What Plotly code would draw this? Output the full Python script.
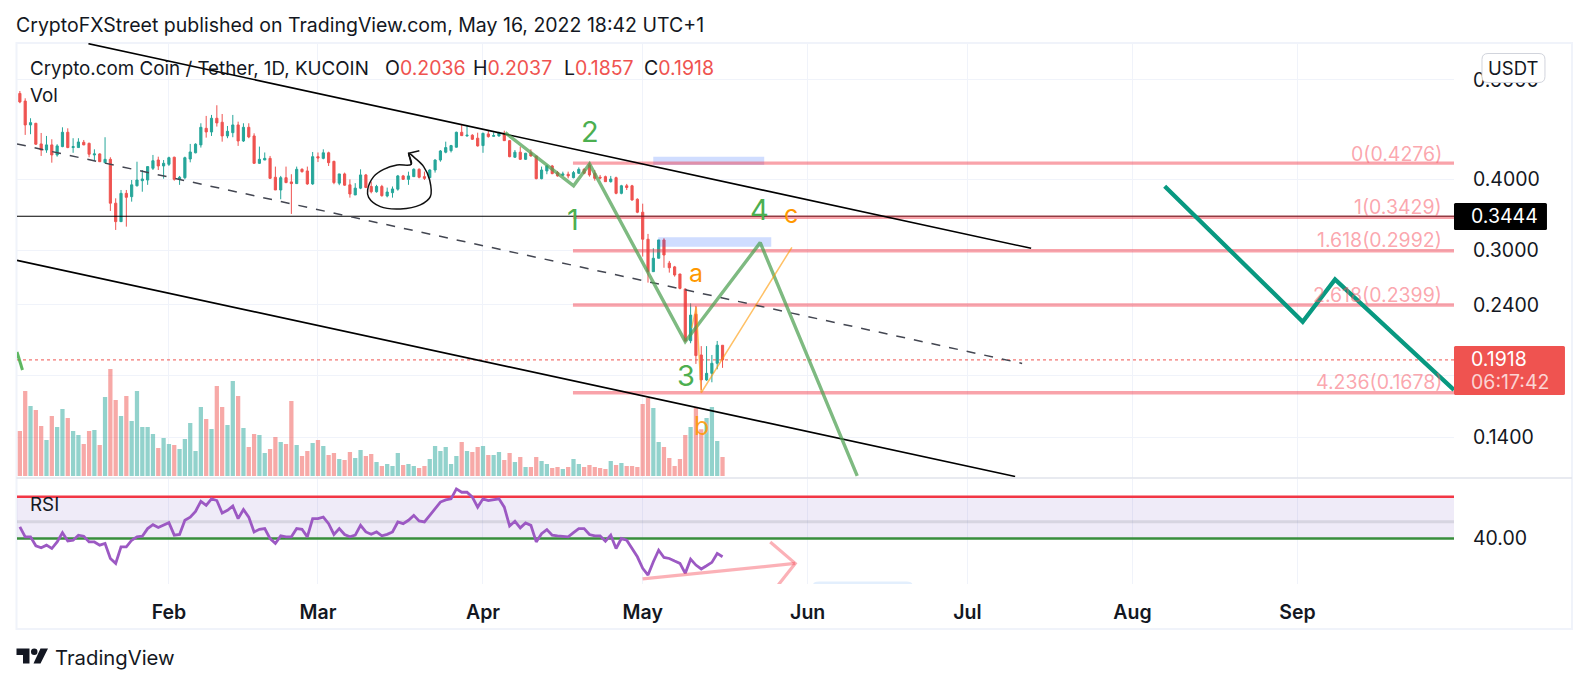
import pandas as pd
import plotly.graph_objects as go

dates = pd.date_range("2022-01-04", "2022-05-16", freq="D")
opens = [.5681,.5506,.4996,.5030,.4624,.4511,.4606,.4421,.4574,.4849,
.4556,.4556,.4655,.4636,.4421,.4439,.4284,.4343,.3632,.3369,
.3781,.3730,.3899,.3981,.3992,.4187,.4331,.4227,.4256,.4380,
.4003,.4030,.4349,.4460,.4606,.4928,.4855,.5134,.5051,.4777,
.4841,.4996,.4680,.4948,.4777,.4273,.4331,.4360,.4037,.3833,
.4030,.3961,.3934,.4170,.4142,.3929,.4390,.4360,.4460,.4307,
.3941,.4092,.3914,.3756,.3862,.4075,.3888,.3806,.3888,.3741,
.3791,.3846,.4059,.4003,.4047,.4170,.4047,.4030,.4158,.4331,
.4471,.4499,.4563,.4849,.4777,.4791,.4733,.4593,.4816,.4771,
.4777,.4828,.4686,.4380,.4471,.4343,.4460,.4403,.4014,.4142,
.4227,.4114,.4070,.4087,.4030,.4103,.4170,.4245,.4103,.4037,
.4047,.3965,.4030,.3781,.3899,.3899,.3691,.3501,.3136,.2748,
.2902,.3127,.2845,.2802,.2722,.2560,.2074,.2311,.1957,.1768,
.1816,.1892,.2036]
highs = [.5737,.5569,.5134,.5037,.4835,.4777,.4713,.4619,.4948,.4928,
.4733,.4733,.4699,.4648,.4524,.4451,.4752,.4380,.3705,.3833,
.3833,.3992,.4301,.4158,.4216,.4421,.4390,.4331,.4390,.4390,
.4059,.4390,.4624,.4636,.5030,.5183,.5204,.5413,.5224,.4975,
.5204,.5063,.5030,.5030,.4828,.4574,.4466,.4403,.4216,.4059,
.4216,.4087,.4216,.4187,.4216,.4475,.4466,.4524,.4480,.4318,
.4092,.4114,.4003,.3941,.4170,.4092,.3965,.3914,.3914,.3870,
.3888,.4075,.4075,.4130,.4187,.4187,.4130,.4170,.4343,.4511,
.4667,.4606,.4861,.5009,.4996,.4811,.4841,.4841,.4894,.4849,
.4861,.4881,.4699,.4511,.4574,.4460,.4524,.4403,.4216,.4245,
.4245,.4142,.4130,.4130,.4142,.4203,.4187,.4284,.4158,.4075,
.4064,.4059,.4047,.3914,.3929,.3914,.3705,.3625,.3205,.3023,
.3127,.3149,.2871,.2813,.2722,.2567,.2415,.2390,.2029,.2029,
.1957,.2072,.2037]
lows = [.5459,.4797,.4811,.4606,.4403,.4460,.4284,.4390,.4563,.4545,
.4460,.4556,.4600,.4380,.4318,.4295,.4284,.3519,.3257,.3369,
.3301,.3655,.3888,.3806,.3914,.4158,.4158,.4014,.4227,.3981,
.3914,.4003,.4290,.4451,.4556,.4744,.4777,.4963,.4667,.4733,
.4752,.4587,.4661,.4733,.4261,.4261,.4331,.4008,.3833,.3691,
.3941,.3477,.3929,.4114,.3914,.3914,.4295,.4343,.4227,.3924,
.3909,.3899,.3715,.3756,.3846,.3862,.3781,.3791,.3730,.3720,
.3715,.3822,.3992,.3914,.4047,.4019,.3992,.4019,.4114,.4301,
.4451,.4466,.4556,.4777,.4764,.4699,.4574,.4460,.4744,.4764,
.4764,.4680,.4380,.4372,.4331,.4331,.4390,.4003,.4003,.4087,
.4087,.4047,.4059,.4019,.4019,.4092,.4087,.4047,.3981,.4003,
.3961,.3950,.3766,.3766,.3833,.3670,.3487,.2922,.2628,.2748,
.2902,.2792,.2737,.2693,.2557,.2066,.2053,.1887,.1697,.1761,
.1751,.1846,.1857]
closes = [.5487,.4996,.5043,.4619,.4511,.4606,.4421,.4587,.4849,.4556,
.4574,.4661,.4606,.4434,.4439,.4301,.4343,.3632,.3369,.3781,
.3720,.3914,.3992,.4008,.4216,.4318,.4227,.4273,.4372,.4003,
.4037,.4372,.4475,.4619,.4948,.4855,.5134,.5037,.4777,.4868,
.4996,.4680,.4948,.4758,.4273,.4343,.4360,.4019,.3833,.4030,
.3950,.3934,.4170,.4130,.3929,.4390,.4367,.4460,.4284,.3950,
.4092,.3909,.3771,.3862,.4075,.3872,.3806,.3888,.3745,.3801,
.3849,.4059,.4003,.4059,.4170,.4037,.4019,.4158,.4331,.4493,
.4556,.4593,.4849,.4783,.4791,.4713,.4587,.4828,.4764,.4783,
.4841,.4686,.4390,.4471,.4343,.4451,.4403,.4014,.4158,.4227,
.4097,.4059,.4092,.4059,.4114,.4170,.4103,.4075,.4019,.4025,
.3965,.4008,.3781,.3899,.3872,.3680,.3501,.3136,.2748,.2902,
.3127,.2941,.2792,.2711,.2567,.2072,.2302,.1952,.1768,.1816,
.1892,.2037,.1918]
volume = [135,255,210,198,150,108,180,147,201,174,
135,123,96,135,138,93,237,321,228,180,
240,165,255,147,147,126,84,114,96,93,
81,111,159,75,207,171,141,270,207,153,
285,240,144,87,126,123,69,81,117,102,
96,225,93,60,75,99,108,90,63,69,
51,48,72,54,78,60,66,42,30,36,
30,69,33,36,30,24,30,51,90,75,
87,36,60,102,75,72,87,90,63,63,
72,48,69,42,57,27,27,57,45,36,
24,27,21,27,51,36,27,33,27,24,
21,45,33,39,30,30,27,216,234,204,
102,87,54,30,51,123,147,204,140,174,
207,105,57]
rsi = [46.9,41.0,41.0,35.7,34.5,36.1,34.1,38.0,43.5,38.6,
39.0,42.0,41.4,38.0,38.0,36.1,37.1,28.2,25.3,35.1,
35.1,39.0,41.0,41.4,45.9,48.2,46.5,47.8,49.4,42.0,
42.4,50.8,52.7,56.1,62.0,59.6,63.5,62.5,55.1,56.7,
59.2,51.8,57.2,52.7,43.9,45.5,45.9,40.0,37.1,41.6,
41.0,41.0,45.9,45.5,41.0,51.8,51.8,52.7,48.8,42.4,
45.9,42.4,41.0,42.0,47.8,43.9,42.5,43.9,41.6,42.5,
43.9,49.8,48.8,50.8,53.7,50.4,49.8,53.7,57.6,61.6,
62.9,63.5,69.4,67.4,67.4,64.5,58.6,63.5,62.5,63.1,
63.5,58.6,47.4,50.2,46.3,49.2,47.8,38.0,42.9,45.3,
42.0,41.6,41.4,41.0,43.5,45.9,45.9,42.4,41.6,41.6,
38.4,42.0,34.1,40.0,39.0,34.1,29.2,22.4,18.4,26.3,
33.1,28.8,28.2,26.7,25.3,19.4,27.8,24.3,22.0,23.9,
25.9,31.2,29.2]

# drawings: x in days after 1 Feb 2022, y in price
fib_levels = [0.4276, 0.3429, 0.2992, 0.2399, 0.1678]
fib_names = ["0(0.4276)", "1(0.3429)", "1.618(0.2992)", "2.618(0.2399)", "4.236(0.1678)"]
upper_days, upper_prices = [-15.12, 161.97], [.6957, .3022]
lower_days, lower_prices = [-28.54, 158.97], [.2878, .1193]
mid_days, mid_prices = [-28.54, 160.28], [.4624, .1891]
wave_days = [63.19, 76.02, 79.02, 96.99, 111.08, 129.30]
wave_prices = [.4841, .3899, .4262, .2066, .3093, .1196]
edge_days, edge_prices = [-28.54, -27.51], [.1981, .1841]
teal_days = [187.06, 212.99, 219.06, 241.41]
teal_prices = [.3893, .2241, .2663, .1697]
orange_days = [98.22, 99.06, 100.0, 117.03]
orange_prices = [.2185, .2380, .1678, .3035]
circle_days = [45.03, 46.29, 47.85, 48.98, 49.11, 47.23, 43.47, 39.72, 37.52, 37.33, 38.46, 40.34, 42.85, 45.54]
circle_prices = [.4451, .4360, .4216, .3992, .3730, .3607, .3547, .3581, .3720, .3833, .4047, .4170, .4245, .4257]
head_days, head_prices = [47.04, 45.03, 45.54], [.4498, .4451, .4257]
box1_days, box1_prices = [90.99, 111.83], [.4390, .4245]
box2_days, box2_prices = [91.92, 113.15], [.3162, .3043]
arrow_days, arrow_rsi = [88.98, 117.65], [16.1, 25.3]
arrowhead_days, arrowhead_rsi = [112.96, 117.65, 114.46], [38.0, 25.3, 12.5]
FIRST_DAY, LAST_DAY = -28.54, 241.41
RSI_TOP, RSI_MID, RSI_LOW = 64.7, 50.0, 40.0
LAST_PRICE, LINE_PRICE = 0.1918, 0.3444
month_ticks = ["2022-02-01", "2022-03-01", "2022-04-01", "2022-05-01", "2022-06-01", "2022-07-01", "2022-08-01", "2022-09-01"]
month_names = ["Feb", "Mar", "Apr", "May", "Jun", "Jul", "Aug", "Sep"]
price_ticks = [0.6, 0.4, 0.3, 0.24, 0.18, 0.14]
price_labels = ["0.6000", "0.4000", "0.3000", "0.2400", "", "0.1400"]

assert all(len(a) == len(dates) for a in (opens, highs, lows, closes, volume, rsi))

L, R, T, B = 16.5, 1454.0, 43.0, 584.0
W, H = R - L, B - T
def X(px): return (px - L) / W
def Y(py): return (B - py) / H
base = pd.Timestamp("2022-02-01")
def D(days): return [base + pd.Timedelta(days=float(d)) for d in days]

UP, DOWN, INK, GRID = "#26a69a", "#ef5350", "#131722", "#f0f3fa"
FONT = "Inter"
FIB = "rgba(242,54,69,0.46)"

fig = go.Figure()
fig.add_trace(go.Bar(x=dates, y=volume, yaxis="y",
                     marker=dict(color=["rgba(38,166,154,0.5)" if c >= o else "rgba(239,83,80,0.5)" for o, c in zip(opens, closes)], line_width=0)))

def line(days, vals, color, width, axis="y2", dash=None, shape="linear"):
    fig.add_trace(go.Scatter(x=D(days), y=vals, mode="lines", yaxis=axis,
                             line=dict(color=color, width=width, dash=dash, shape=shape)))
def box(days, vals):
    fig.add_trace(go.Scatter(x=D([days[0], days[1], days[1], days[0], days[0]]),
                             y=[vals[0], vals[0], vals[1], vals[1], vals[0]], mode="lines", yaxis="y2",
                             fill="toself", fillcolor="rgba(41,98,255,0.22)", line=dict(width=0)))

fig.add_trace(go.Candlestick(x=dates, open=opens, high=highs, low=lows, close=closes, yaxis="y2",
                             increasing=dict(line=dict(color=UP, width=1), fillcolor=UP),
                             decreasing=dict(line=dict(color=DOWN, width=1), fillcolor=DOWN),
                             whiskerwidth=0))
box(box1_days, box1_prices)
box(box2_days, box2_prices)
line([FIRST_DAY, LAST_DAY], [LAST_PRICE, LAST_PRICE], DOWN, 1, dash="dot")
line([FIRST_DAY, LAST_DAY], [LINE_PRICE, LINE_PRICE], "#000000", 1.1)
for lv in fib_levels:
    line([75.9, LAST_DAY], [lv, lv], FIB, 3.4)
line(upper_days, upper_prices, "#000000", 1.6)
line(lower_days, lower_prices, "#000000", 1.6)
line(mid_days, mid_prices, "#434651", 1.5, dash="9px,9px")
line(wave_days, wave_prices, "rgba(76,160,80,0.72)", 3.4)
line(edge_days, edge_prices, "rgba(76,175,80,0.9)", 3.0)
line(orange_days, orange_prices, "rgba(255,152,0,0.6)", 1.5)
line(teal_days, teal_prices, "#089981", 4.3)
fig.add_trace(go.Scatter(x=D(circle_days + circle_days[:1]), y=circle_prices + circle_prices[:1], mode="lines", yaxis="y2",
                         line=dict(color="#111111", width=1.5, shape="spline", smoothing=1)))
line(head_days, head_prices, "#111111", 1.5)

# RSI pane
fig.add_trace(go.Scatter(x=D([FIRST_DAY, LAST_DAY, LAST_DAY, FIRST_DAY, FIRST_DAY]),
                         y=[RSI_LOW, RSI_LOW, RSI_TOP, RSI_TOP, RSI_LOW], mode="lines", yaxis="y3",
                         fill="toself", fillcolor="rgba(126,87,194,0.12)", line=dict(width=0)))
line([FIRST_DAY, LAST_DAY], [RSI_MID, RSI_MID], "rgba(120,123,134,0.2)", 3, axis="y3")
line([FIRST_DAY, LAST_DAY], [RSI_TOP, RSI_TOP], "#f23645", 2.6, axis="y3")
line([FIRST_DAY, LAST_DAY], [RSI_LOW, RSI_LOW], "#388e3c", 2.6, axis="y3")
fig.add_trace(go.Scatter(x=dates, y=rsi, mode="lines", yaxis="y3", line=dict(color="#9c59c3", width=2.8)))
line(arrow_days, arrow_rsi, "rgba(247,82,95,0.45)", 3.2, axis="y3")
line(arrowhead_days, arrowhead_rsi, "rgba(247,82,95,0.45)", 3.2, axis="y3")

ann = []
def text(px, py, s, size=19, color=INK, anchor="left", family=FONT):
    shift = {"left": -2.5, "right": 2.5, "center": 0}[anchor]
    ann.append(dict(x=X(px), y=Y(py), xref="paper", yref="paper", text=s, showarrow=False, xanchor=anchor,
                    yanchor="middle", align=anchor, xshift=shift, font=dict(family=family, size=size, color=color)))

text(16, 25.5, "CryptoFXStreet published on TradingView.com, May 16, 2022 18:42 UTC+1", 19.5)
text(30, 68, "Crypto.com Coin / Tether, 1D, KUCOIN", 18.8)
for px, tag, val in [(385, "O", "0.2036"), (473, "H", "0.2037"), (564, "L", "0.1857"), (644, "C", "0.1918")]:
    text(px, 68, f'{tag}<span style="color:{DOWN}">{val}</span>', 19.5)
text(30, 95, "Vol", 18.8)
text(30, 504.5, "RSI", 18.8)
text(590, 131.5, "2", 29, "#4caf50", "center")
text(573, 219.5, "1", 29, "#4caf50", "center")
text(686, 375, "3", 29, "#4caf50", "center")
text(759, 209.5, "4", 29, "#4caf50", "center")
text(695.5, 273, "a", 25, "#ff9800", "center")
text(701.5, 426, "b", 25, "rgba(255,152,0,0.85)", "center")
text(791, 214, "c", 25, "#ff9800", "center")
for name, py in zip(fib_names, [153.5, 207, 239.5, 294.5, 381.5]):
    text(1441, py, name, 19.5, "rgba(247,82,95,0.52)", "right")
text(1472, 216.5, f"{LINE_PRICE:.4f}", 19.5, "#ffffff")
text(1472, 359, f"{LAST_PRICE:.4f}", 19.5, "#ffffff")
text(1472, 381.5, "06:17:42", 19.5, "rgba(255,255,255,0.75)")
text(1513.5, 67.5, "USDT", 18.5, INK, "center")
text(55, 657.5, "TradingView", 20.3, INK)

def rect_path(x0, y0, x1, y1, r):
    a, b, c, d = X(x0), X(x1), Y(y0), Y(y1)
    rx, ry = r / W, r / H
    return (f"M{a+rx},{c} L{b-rx},{c} Q{b},{c} {b},{c-ry} L{b},{d+ry} Q{b},{d} {b-rx},{d} "
            f"L{a+rx},{d} Q{a},{d} {a},{d+ry} L{a},{c-ry} Q{a},{c} {a+rx},{c} Z")
def pxpath(pts):
    return "M" + " L".join(f"{X(a)},{Y(b)}" for a, b in pts) + " Z"

shapes = [
    dict(type="rect", xref="paper", yref="paper", x0=X(16), x1=X(1572), y0=Y(43), y1=Y(629), line=dict(color=GRID, width=2), layer="below"),
    dict(type="line", xref="paper", yref="paper", x0=X(16), x1=X(1572), y0=Y(478), y1=Y(478), line=dict(color="#e0e3eb", width=1.5), layer="above"),
    dict(type="path", xref="paper", yref="paper", path=rect_path(1454, 203, 1547, 230, 1.5), fillcolor="#000000", line_width=0, layer="above"),
    dict(type="path", xref="paper", yref="paper", path=rect_path(1454, 346, 1565, 395, 1.5), fillcolor=DOWN, line_width=0, layer="above"),
    dict(type="path", xref="paper", yref="paper", path=rect_path(1482, 53.5, 1545, 82.5, 6), fillcolor="#ffffff", line=dict(color="#d1d4dc", width=1), layer="above"),
    dict(type="path", xref="paper", yref="paper",
         path=f"M{X(813)},{Y(584)} Q{X(813)},{Y(581.5)} {X(819)},{Y(581.5)} L{X(906)},{Y(581.5)} Q{X(912)},{Y(581.5)} {X(912)},{Y(584)} Z",
         fillcolor="#e3effd", line_width=0, layer="above"),
    dict(type="path", xref="paper", yref="paper", path=pxpath([(16, 648.5), (29, 648.5), (29, 663.5), (22.5, 663.5), (22.5, 655), (16, 655)]), fillcolor=INK, line_width=0),
    dict(type="circle", xref="paper", yref="paper", x0=X(30.5), x1=X(37), y0=Y(648.5), y1=Y(655), fillcolor=INK, line_width=0),
    dict(type="path", xref="paper", yref="paper", path=pxpath([(40, 648.5), (47.5, 648.5), (40, 663.5), (33, 663.5)]), fillcolor=INK, line_width=0),
]

fig.update_layout(
    width=1588, height=685, autosize=False, showlegend=False, hovermode=False,
    paper_bgcolor="#ffffff", plot_bgcolor="#ffffff",
    margin=dict(l=L, r=1588 - R, t=T, b=685 - B, pad=0),
    bargap=0.2, boxgap=0.42,
    font=dict(family=FONT, color=INK, size=18),
    annotations=ann, shapes=shapes,
    xaxis=dict(type="date", range=[D([FIRST_DAY])[0], D([LAST_DAY])[0]], anchor="y3", tickvals=month_ticks, ticktext=month_names,
               showgrid=True, gridcolor=GRID, gridwidth=1, zeroline=False, showline=False, ticks="outside", ticklen=11, tickcolor="rgba(0,0,0,0)",
               tickfont=dict(family=FONT, size=19.5, color=INK, weight=600), rangeslider=dict(visible=False)),
    yaxis=dict(domain=[0.1965, 1], range=[-5, 1299], visible=False, fixedrange=True),
    yaxis2=dict(overlaying="y", side="right", type="log", anchor="x",
                range=[-0.92555, -0.15639], tickvals=price_ticks, ticktext=price_labels,
                showgrid=True, gridcolor=GRID, gridwidth=1, zeroline=False, showline=False,
                ticks="outside", ticklen=14, tickcolor="rgba(0,0,0,0)", tickfont=dict(family=FONT, size=19.5, color=INK)),
    yaxis3=dict(domain=[0, 0.1949], range=[13.1, 75.5], side="right", anchor="x", tickvals=[40], ticktext=["40.00"],
                showgrid=False, zeroline=False, showline=False, ticks="outside", ticklen=14, tickcolor="rgba(0,0,0,0)",
                tickfont=dict(family=FONT, size=19.5, color=INK)),
)
fig.write_html("out.html", config={"displayModeBar": False},
               post_script="document.body.style.margin='0';document.body.style.overflow='hidden';")
